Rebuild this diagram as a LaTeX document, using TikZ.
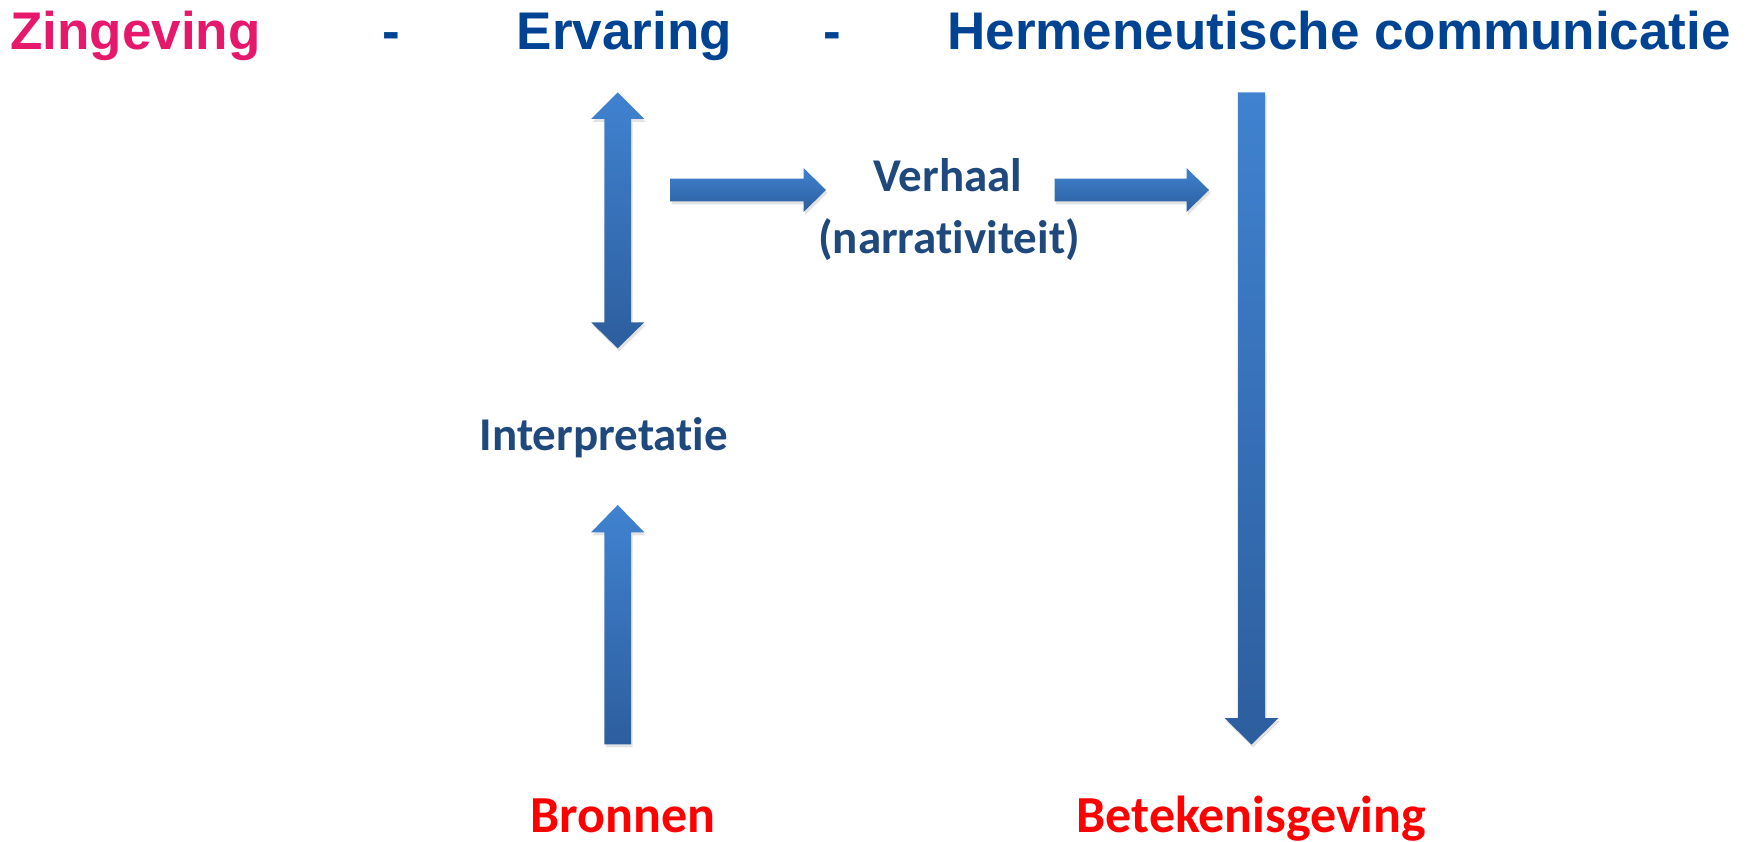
\documentclass[tikz,border=0pt]{standalone}
\usepackage{fontspec}
\setmainfont[Ligatures=NoCommon]{Carlito}
\newfontfamily\arialfont{Liberation Sans}
\usetikzlibrary{calc,shadows}
\definecolor{zpink}{RGB}{230,24,107}
\definecolor{tblue}{RGB}{0,67,146}
\definecolor{lblue}{RGB}{31,73,125}
\definecolor{lred}{RGB}{255,0,0}
\definecolor{atop}{RGB}{64,130,208}
\definecolor{abot}{RGB}{45,94,158}
\tikzset{
  blockarrow/.style={top color=atop, bottom color=abot, draw=none,
    drop shadow={opacity=0.22, shadow xshift=1.5pt, shadow yshift=-3pt}},
  title/.style={font=\arialfont\bfseries\fontsize{53}{60}\selectfont, inner sep=0pt, anchor=base},
  lbl/.style={font=\bfseries\fontsize{47}{62}\selectfont, text=lblue, inner sep=0pt, anchor=base},
  redlbl/.style={font=\bfseries\fontsize{52}{60}\selectfont, text=lred, inner sep=0pt, anchor=base}
}
\begin{document}
\begin{tikzpicture}[x=1pt,y=-1pt]
\useasboundingbox (0,0) rectangle (1752,842);
% titles
\node[title, text=zpink, anchor=base west] (zin) at (10,50) {Zingeving};
\node[title, text=tblue] (d1) at (391,50) {-};
\node[title, text=tblue] (erv) at (624.5,50) {Ervaring};
\node[title, text=tblue] (d2) at (832,50) {-};
\node[title, text=tblue] (herm) at (1339,50) {Hermeneutische communicatie};
% labels
\node[lbl] (verh) at (948,192) {Verhaal};
\node[lbl] (narr) at (949,254) {(narrativiteit)};
\node[lbl] (interp) at (604,450) {Interpretatie};
\node[redlbl] (bron) at (623,832) {Bronnen};
\node[redlbl] (betek) at (1251.5,832) {Betekenisgeving};
% arrow anchor coordinates
\coordinate (daT) at (617.7,92.3);
\coordinate (daB) at (617.7,348.3);
\coordinate (upT) at (617.7,505);
\coordinate (upB) at (617.7,744.3);
\coordinate (r1A) at (670,190);
\coordinate (r1T) at (826,190);
\coordinate (r2A) at (1054.5,190);
\coordinate (r2T) at (1209,190);
\coordinate (dnA) at (1251.5,92.3);
\coordinate (dnT) at (1251.5,744.5);
% double vertical arrow
\path[blockarrow] (daT) -- ($(daT)+(26.6,26.7)$) -- ($(daT)+(13.35,26.7)$)
  -- ($(daB)+(13.35,-26)$) -- ($(daB)+(26.6,-26)$) -- (daB)
  -- ($(daB)+(-26.6,-26)$) -- ($(daB)+(-13.35,-26)$)
  -- ($(daT)+(-13.35,26.7)$) -- ($(daT)+(-26.6,26.7)$) -- cycle;
% up arrow
\path[blockarrow] (upT) -- ($(upT)+(26.6,27.3)$) -- ($(upT)+(13.35,27.3)$)
  -- ($(upB)+(13.35,0)$) -- ($(upB)+(-13.35,0)$)
  -- ($(upT)+(-13.35,27.3)$) -- ($(upT)+(-26.6,27.3)$) -- cycle;
% right arrows
\path[blockarrow] ($(r1A)+(0,-11.35)$) -- ($(r1T)+(-22.5,-11.35)$) -- ($(r1T)+(-22.5,-22)$)
  -- (r1T) -- ($(r1T)+(-22.5,22)$) -- ($(r1T)+(-22.5,11.35)$) -- ($(r1A)+(0,11.35)$) -- cycle;
\path[blockarrow] ($(r2A)+(0,-11.35)$) -- ($(r2T)+(-22.5,-11.35)$) -- ($(r2T)+(-22.5,-22)$)
  -- (r2T) -- ($(r2T)+(-22.5,22)$) -- ($(r2T)+(-22.5,11.35)$) -- ($(r2A)+(0,11.35)$) -- cycle;
% long down arrow
\path[blockarrow] ($(dnA)+(-13.6,0)$) -- ($(dnA)+(13.6,0)$) -- ($(dnT)+(13.6,-26.5)$)
  -- ($(dnT)+(27,-26.5)$) -- (dnT) -- ($(dnT)+(-27,-26.5)$) -- ($(dnT)+(-13.6,-26.5)$) -- cycle;
\end{tikzpicture}
\end{document}
